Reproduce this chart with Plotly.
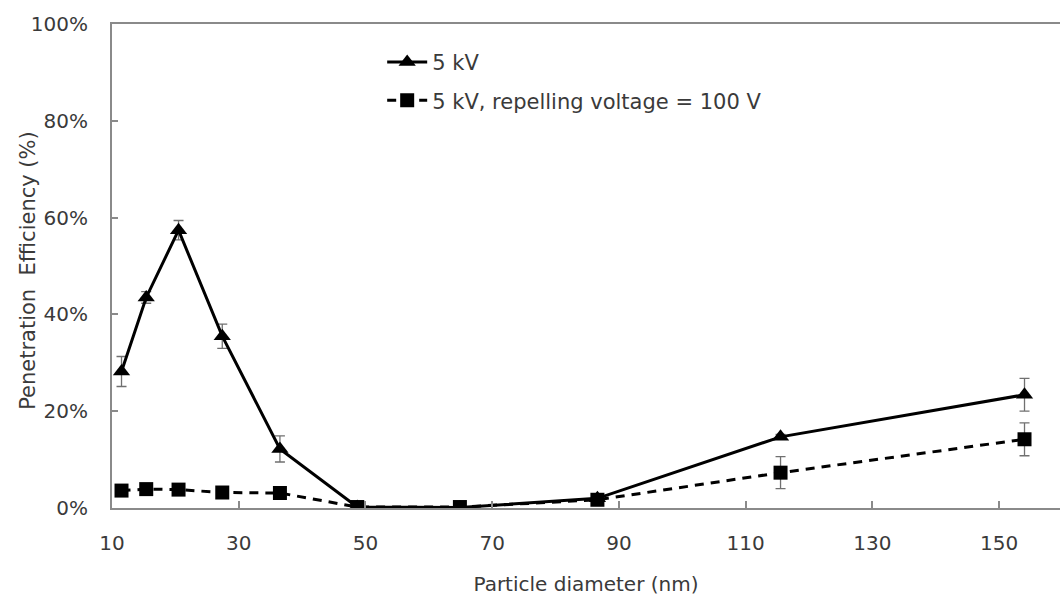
import plotly.graph_objects as go

diameter = [11.5, 15.4, 20.5, 27.4, 36.5, 48.7, 64.9, 86.6, 115.5, 154.0]
pe_5kv = [28.2, 43.5, 57.4, 35.5, 12.2, 0.2, 0.1, 2.0, 14.7, 23.4]
err_5kv = [3.1, 1.2, 2.0, 2.5, 2.7, 0.5, 0.3, 0.5, 0.5, 3.4]
pe_rep = [3.6, 3.9, 3.8, 3.2, 3.1, 0.2, 0.2, 1.7, 7.3, 14.2]
err_rep = [0.3, 0.3, 0.3, 0.3, 0.3, 0.6, 0.3, 0.5, 3.3, 3.4]

y_ticks = [0, 20, 40, 60, 80, 100]
x_ticks = [10, 30, 50, 70, 90, 110, 130, 150]

FONT = "DejaVu Sans"
TXT = "#3a3a3a"
AX = "#8a8a8a"

fig = go.Figure()
fig.add_trace(go.Scatter(
    x=diameter, y=pe_5kv, name="5 kV", mode="lines+markers",
    line=dict(color="black", width=3),
    marker=dict(symbol="triangle-up", size=15, color="black"),
    error_y=dict(type="data", array=err_5kv, color="#707070", thickness=1.3, width=5),
    legendgroup="a",
))
fig.add_trace(go.Scatter(
    x=diameter, y=pe_rep, name="5 kV, repelling voltage = 100 V", mode="lines+markers",
    line=dict(color="black", width=3, dash="9px,7px"),
    marker=dict(symbol="square", size=14, color="black"),
    error_y=dict(type="data", array=err_rep, color="#707070", thickness=1.3, width=5),
    legendgroup="b",
))

fig.update_layout(
    width=1060, height=600,
    margin=dict(l=112, r=0, t=24, b=92),
    paper_bgcolor="white", plot_bgcolor="white",
    font=dict(family=FONT, size=18, color=TXT),
    showlegend=True,
    legend=dict(x=0.285, y=0.963, xanchor="left", yanchor="top",
                bgcolor="rgba(0,0,0,0)", font=dict(size=21, color=TXT),
                tracegroupgap=8, itemwidth=40),
    xaxis=dict(
        range=[10, 159.6], tickvals=x_ticks, ticktext=[str(v) for v in x_ticks],
        showgrid=False, zeroline=False, showline=True, linecolor=AX, linewidth=2,
        mirror=True, ticks="inside", ticklen=7, tickcolor=AX, tickwidth=1.5,
        tickfont=dict(size=20, color=TXT), ticklabelstandoff=16,
        title=dict(text="Particle diameter (nm)", font=dict(size=20, color=TXT), standoff=23),
    ),
    yaxis=dict(
        range=[0, 100], tickvals=y_ticks, ticktext=[f"{v}%" for v in y_ticks],
        showgrid=False, zeroline=False, showline=True, linecolor=AX, linewidth=2,
        ticks="inside", ticklen=6, tickcolor=AX, tickwidth=1.5,
        tickfont=dict(size=20, color=TXT), ticklabelstandoff=18,
    ),
    annotations=[dict(
        text="Penetration  Efficiency (%)", textangle=-90,
        xref="paper", yref="paper", x=-0.0886, y=0.49,
        xanchor="center", yanchor="middle", showarrow=False,
        font=dict(size=21, color=TXT),
    )],
)

fig.write_html("out.html")
